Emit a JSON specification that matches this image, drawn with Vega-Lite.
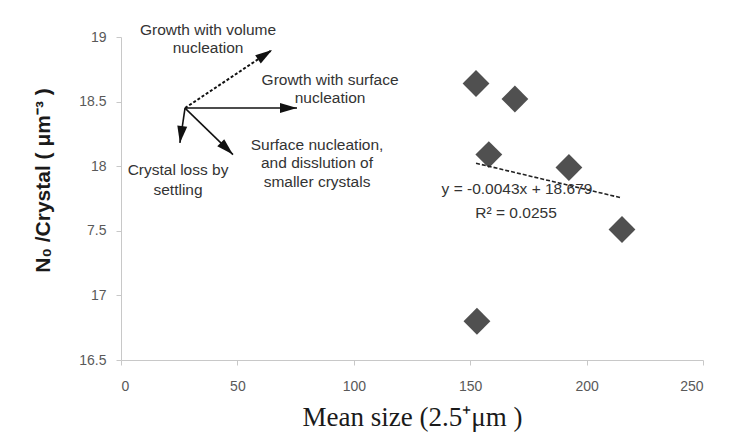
{
  "$schema": "https://vega.github.io/schema/vega-lite/v6.json",
  "width": 582,
  "height": 323,
  "autosize": {"type": "none"},
  "padding": {"left": 121, "top": 37, "right": 28, "bottom": 88},
  "background": "white",
  "config": {
    "view": {"stroke": null},
    "font": "Liberation Sans"
  },
  "datasets": {
    "points": [
      {"size": 152.5, "n0": 18.64},
      {"size": 169.2, "n0": 18.52},
      {"size": 158.0, "n0": 18.09},
      {"size": 192.4, "n0": 17.99},
      {"size": 215.2, "n0": 17.51},
      {"size": 152.9, "n0": 16.80}
    ],
    "trend": [
      {"size": 152.5, "n0": 18.023},
      {"size": 215.2, "n0": 17.754}
    ],
    "arrows": [
      {"arrow": "volume", "x0": 27.5, "y0": 18.45, "x1": 64.9, "y1": 18.9},
      {"arrow": "surface", "x0": 27.5, "y0": 18.45, "x1": 75.6, "y1": 18.45},
      {"arrow": "settling", "x0": 27.5, "y0": 18.45, "x1": 25.3, "y1": 18.18},
      {"arrow": "dissolution", "x0": 27.5, "y0": 18.45, "x1": 48.1, "y1": 18.09}
    ],
    "labels": [
      {"x": 37.4, "y": 19.054, "label": "Growth with volume"},
      {"x": 37.4, "y": 18.915, "label": "nucleation"},
      {"x": 89.8, "y": 18.667, "label": "Growth with surface"},
      {"x": 89.8, "y": 18.528, "label": "nucleation"},
      {"x": 24.5, "y": 17.97, "label": "Crystal loss by"},
      {"x": 24.5, "y": 17.816, "label": "settling"},
      {"x": 84.2, "y": 18.164, "label": "Surface nucleation,"},
      {"x": 84.2, "y": 18.025, "label": "and disslution of"},
      {"x": 84.2, "y": 17.878, "label": "smaller crystals"},
      {"x": 170.1, "y": 17.824, "label": "y = -0.0043x + 18.679"},
      {"x": 169.7, "y": 17.638, "label": "R² = 0.0255"}
    ]
  },
  "layer": [
    {
      "data": {"name": "points"},
      "mark": {"type": "point", "shape": "diamond", "filled": true, "size": 720, "color": "#505050", "opacity": 1},
      "encoding": {
        "x": {
          "field": "size", "type": "quantitative",
          "scale": {"domain": [0, 250], "nice": false, "zero": false},
          "axis": {
            "values": [0, 50, 100, 150, 200, 250],
            "grid": false,
            "domainColor": "#c8c8c8",
            "tickColor": "#c8c8c8",
            "tickSize": 5,
            "labelPadding": 14,
            "labelColor": "#595959",
            "labelFontSize": 14,
            "labelFont": "Liberation Sans",
            "title": "Mean size (2.5⁺μm )",
            "titleFont": "Liberation Serif",
            "titleFontSize": 27,
            "titleFontWeight": "normal",
            "titleColor": "#1a1a1a",
            "titleBaseline": "middle",
            "titleY": 57
          }
        },
        "y": {
          "field": "n0", "type": "quantitative",
          "scale": {"domain": [16.5, 19], "nice": false, "zero": false},
          "axis": {
            "values": [16.5, 17, 17.5, 18, 18.5, 19],
            "format": "~g",
            "labelExpr": "datum.value == 17.5 ? '7.5' : datum.label",
            "grid": false,
            "domainColor": "#c8c8c8",
            "tickColor": "#c8c8c8",
            "tickSize": 5,
            "labelPadding": 10,
            "labelColor": "#595959",
            "labelFontSize": 14,
            "labelFont": "Liberation Sans",
            "title": "N₀ /Crystal ( μm⁻³ )",
            "titleFont": "Liberation Sans",
            "titleFontSize": 21,
            "titleFontWeight": "bold",
            "titleColor": "#1a1a1a",
            "titleBaseline": "middle",
            "titleAlign": "center",
            "titleAngle": -90,
            "titleX": -78,
            "titleY": 143
          }
        }
      }
    },
    {
      "data": {"name": "trend"},
      "mark": {"type": "line", "color": "#222222", "strokeWidth": 1.6, "strokeDash": [4, 2]},
      "encoding": {
        "x": {"field": "size", "type": "quantitative"},
        "y": {"field": "n0", "type": "quantitative"}
      }
    },
    {
      "data": {"name": "arrows"},
      "transform": [{"filter": "datum.arrow == 'volume'"}],
      "mark": {"type": "rule", "color": "#111111", "strokeWidth": 2, "strokeDash": [3, 2]},
      "encoding": {
        "x": {"field": "x0", "type": "quantitative"},
        "y": {"field": "y0", "type": "quantitative"},
        "x2": {"field": "x1"},
        "y2": {"field": "y1"}
      }
    },
    {
      "data": {"name": "arrows"},
      "transform": [{"filter": "datum.arrow != 'volume'"}],
      "mark": {"type": "rule", "color": "#111111", "strokeWidth": 1.6},
      "encoding": {
        "x": {"field": "x0", "type": "quantitative"},
        "y": {"field": "y0", "type": "quantitative"},
        "x2": {"field": "x1"},
        "y2": {"field": "y1"}
      }
    },
    {
      "data": {"name": "arrows"},
      "transform": [{"filter": "datum.arrow == 'volume'"}],
      "mark": {"type": "point", "shape": "M 0 0 L 0.5 1.7 L -0.5 1.7 Z", "filled": true, "size": 400, "color": "#111111", "opacity": 1, "angle": 56},
      "encoding": {
        "x": {"field": "x1", "type": "quantitative"},
        "y": {"field": "y1", "type": "quantitative"}
      }
    },
    {
      "data": {"name": "arrows"},
      "transform": [{"filter": "datum.arrow == 'surface'"}],
      "mark": {"type": "point", "shape": "M 0 0 L 0.5 1.7 L -0.5 1.7 Z", "filled": true, "size": 400, "color": "#111111", "opacity": 1, "angle": 90},
      "encoding": {
        "x": {"field": "x1", "type": "quantitative"},
        "y": {"field": "y1", "type": "quantitative"}
      }
    },
    {
      "data": {"name": "arrows"},
      "transform": [{"filter": "datum.arrow == 'settling'"}],
      "mark": {"type": "point", "shape": "M 0 0 L 0.5 1.7 L -0.5 1.7 Z", "filled": true, "size": 400, "color": "#111111", "opacity": 1, "angle": 188},
      "encoding": {
        "x": {"field": "x1", "type": "quantitative"},
        "y": {"field": "y1", "type": "quantitative"}
      }
    },
    {
      "data": {"name": "arrows"},
      "transform": [{"filter": "datum.arrow == 'dissolution'"}],
      "mark": {"type": "point", "shape": "M 0 0 L 0.5 1.7 L -0.5 1.7 Z", "filled": true, "size": 400, "color": "#111111", "opacity": 1, "angle": 134},
      "encoding": {
        "x": {"field": "x1", "type": "quantitative"},
        "y": {"field": "y1", "type": "quantitative"}
      }
    },
    {
      "data": {"name": "labels"},
      "mark": {"type": "text", "font": "Liberation Sans", "fontSize": 15.5, "color": "#333333", "align": "center", "baseline": "middle"},
      "encoding": {
        "x": {"field": "x", "type": "quantitative"},
        "y": {"field": "y", "type": "quantitative"},
        "text": {"field": "label"}
      }
    }
  ]
}
